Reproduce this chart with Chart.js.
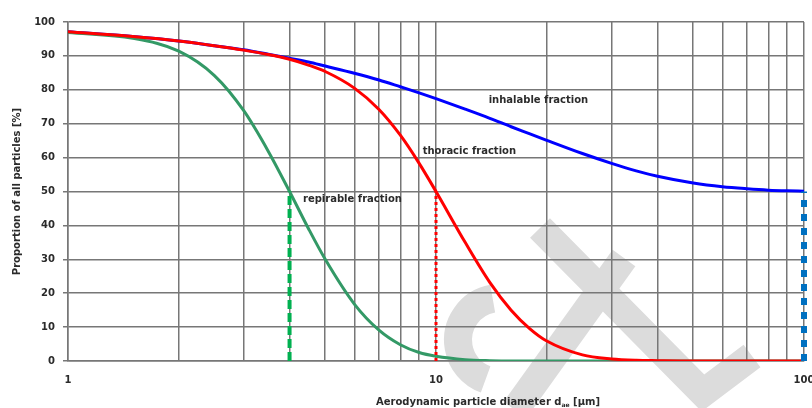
<!DOCTYPE html>
<html>
<head>
<meta charset="utf-8">
<script src="https://cdn.jsdelivr.net/npm/chart.js@4.4.0/dist/chart.umd.min.js"></script>
<style>
html, body { margin: 0; padding: 0; background: #fff; }
#wrap { width: 812px; height: 408px; position: relative; }
</style>
</head>
<body>
<div id="wrap"><canvas id="chart"></canvas></div>
<script>
// aerodynamic diameter [µm] and the three convention curves [%]
const diameters = [1, 1.5, 2, 2.5, 3, 3.5, 4, 4.5, 5, 6, 7, 8, 9, 10, 12, 14, 16, 18, 20, 25, 30, 35, 40, 50, 60, 70, 80, 90, 100];
const inhalable = [97.1, 95.7, 94.4, 93.0, 91.8, 90.5, 89.3, 88.2, 87.0, 84.9, 82.9, 80.9, 79.1, 77.4, 74.3, 71.6, 69.1, 67.0, 65.1, 61.2, 58.3, 56.1, 54.5, 52.5, 51.4, 50.8, 50.4, 50.2, 50.1];
const thoracic = [97.1, 95.7, 94.4, 93.0, 91.7, 90.4, 89.0, 87.3, 85.4, 80.5, 74.2, 66.6, 58.3, 50.0, 35.0, 23.2, 15.0, 9.5, 5.9, 1.8, 0.6, 0.2, 0.1, 0, 0, 0, 0, 0, 0];
const respirable = [96.9, 95.2, 91.4, 84.2, 73.9, 61.9, 50.0, 39.1, 30.0, 16.8, 9.1, 4.8, 2.5, 1.4, 0.4, 0.1, 0, 0, 0, 0, 0, 0, 0, 0, 0, 0, 0, 0, 0];

// 50 % cut sizes: respirable, thoracic, inhalable
const cutSizes = [4, 10, 100];
const cutLevel = 50;

const xGridTicks = [1, 2, 3, 4, 5, 6, 7, 8, 9, 10, 20, 30, 40, 50, 60, 70, 80, 90, 100];
const xLabelTicks = [1, 10, 100];

const notes = [
    { text: 'inhalable fraction', x: 13.9, y: 77 },
    { text: 'thoracic fraction', x: 9.2, y: 61.9 },
    { text: 'repirable fraction', x: 4.35, y: 47.8 }
];

const FONT = "'DejaVu Sans', Verdana, sans-serif";
const TEXT_COLOR = '#2b2b2b';
const GRID_COLOR = '#777777';

Chart.defaults.font.family = FONT;
Chart.defaults.font.size = 10;
Chart.defaults.font.weight = 'bold';
Chart.defaults.color = TEXT_COLOR;

function curve(values) {
    return diameters.map((d, i) => ({ x: d, y: values[i] }));
}

function cutLine(d) {
    return [{ x: d, y: 0 }, { x: d, y: cutLevel }];
}

// light grey logo behind the grid
const watermark = {
    id: 'watermark',
    beforeDraw(chart) {
        const ctx = chart.ctx;
        ctx.save();
        ctx.strokeStyle = '#dcdcdc';
        ctx.lineWidth = 28;
        ctx.lineCap = 'butt';
        ctx.lineJoin = 'miter';
        ctx.beginPath();
        ctx.moveTo(540, 228);
        ctx.lineTo(703, 393);
        ctx.lineTo(752, 356);
        ctx.stroke();
        ctx.beginPath();
        ctx.moveTo(624, 258);
        ctx.lineTo(515, 410);
        ctx.stroke();
        ctx.beginPath();
        ctx.arc(500, 340, 42, -100 * Math.PI / 180, 110 * Math.PI / 180, true);
        ctx.stroke();
        ctx.restore();
    }
};

const labels = {
    id: 'labels',
    afterDatasetsDraw(chart) {
        const ctx = chart.ctx;
        const xs = chart.scales.x;
        const ys = chart.scales.y;
        ctx.save();
        ctx.fillStyle = TEXT_COLOR;
        ctx.font = 'bold 10px ' + FONT;
        ctx.textBaseline = 'middle';
        ctx.textAlign = 'left';
        notes.forEach(n => {
            ctx.fillText(n.text, xs.getPixelForValue(n.x), ys.getPixelForValue(n.y));
        });

        // x axis title with subscript
        let tx = xs.getPixelForValue(6.87);
        const ty = chart.chartArea.bottom + 41;
        const main = 'Aerodynamic particle diameter d';
        ctx.fillText(main, tx, ty);
        tx += ctx.measureText(main).width;
        ctx.font = 'bold 6px ' + FONT;
        ctx.fillText('ae', tx, ty + 3);
        tx += ctx.measureText('ae').width;
        ctx.font = 'bold 10px ' + FONT;
        ctx.fillText(' [µm]', tx, ty);
        ctx.restore();
    }
};

const ctx = document.getElementById('chart').getContext('2d');
new Chart(ctx, {
    type: 'line',
    data: {
        datasets: [
            { data: cutLine(cutSizes[0]), borderColor: '#00b050', borderWidth: 4, borderDash: [9, 4], order: 0 },
            { data: cutLine(cutSizes[1]), borderColor: '#ff0000', borderWidth: 3, borderDash: [3, 3], order: 0 },
            { data: cutLine(cutSizes[2]), borderColor: '#0070c0', borderWidth: 6, borderDash: [7, 7], order: 0, clip: false },
            { label: 'thoracic', data: curve(thoracic), borderColor: '#ff0000', borderWidth: 3, cubicInterpolationMode: 'monotone', order: 1 },
            { label: 'respirable', data: curve(respirable), borderColor: '#339966', borderWidth: 3, cubicInterpolationMode: 'monotone', order: 2 },
            { label: 'inhalable', data: curve(inhalable), borderColor: '#0000ff', borderWidth: 3, cubicInterpolationMode: 'monotone', order: 3 }
        ]
    },
    options: {
        responsive: true,
        maintainAspectRatio: false,
        animation: false,
        elements: { point: { radius: 0, hoverRadius: 0 } },
        layout: { padding: { top: 22, right: 8, left: 0, bottom: 0 } },
        plugins: {
            legend: { display: false },
            tooltip: { enabled: false }
        },
        scales: {
            x: {
                type: 'logarithmic',
                min: 1,
                max: 100,
                afterBuildTicks: s => { s.ticks = xGridTicks.map(v => ({ value: v })); },
                afterFit: s => { s.height = 47; s.paddingLeft = 0; s.paddingRight = 0; },
                ticks: {
                    autoSkip: false,
                    maxRotation: 0,
                    padding: 13,
                    color: TEXT_COLOR,
                    callback: v => xLabelTicks.includes(v) ? String(v) : ''
                },
                grid: { color: GRID_COLOR, lineWidth: 1.5, drawTicks: false },
                border: { color: GRID_COLOR, width: 1.5 }
            },
            y: {
                min: 0,
                max: 100,
                afterFit: s => { s.width = 68; },
                ticks: { stepSize: 10, padding: 8, color: TEXT_COLOR },
                grid: { color: GRID_COLOR, lineWidth: 1.5, tickLength: 5 },
                border: { color: GRID_COLOR, width: 1.5 },
                title: {
                    display: true,
                    text: 'Proportion of all particles [%]',
                    color: TEXT_COLOR,
                    font: { size: 10, weight: 'bold' },
                    padding: { top: 11, bottom: 0 }
                }
            }
        }
    },
    plugins: [watermark, labels]
});
</script>
</body>
</html>
